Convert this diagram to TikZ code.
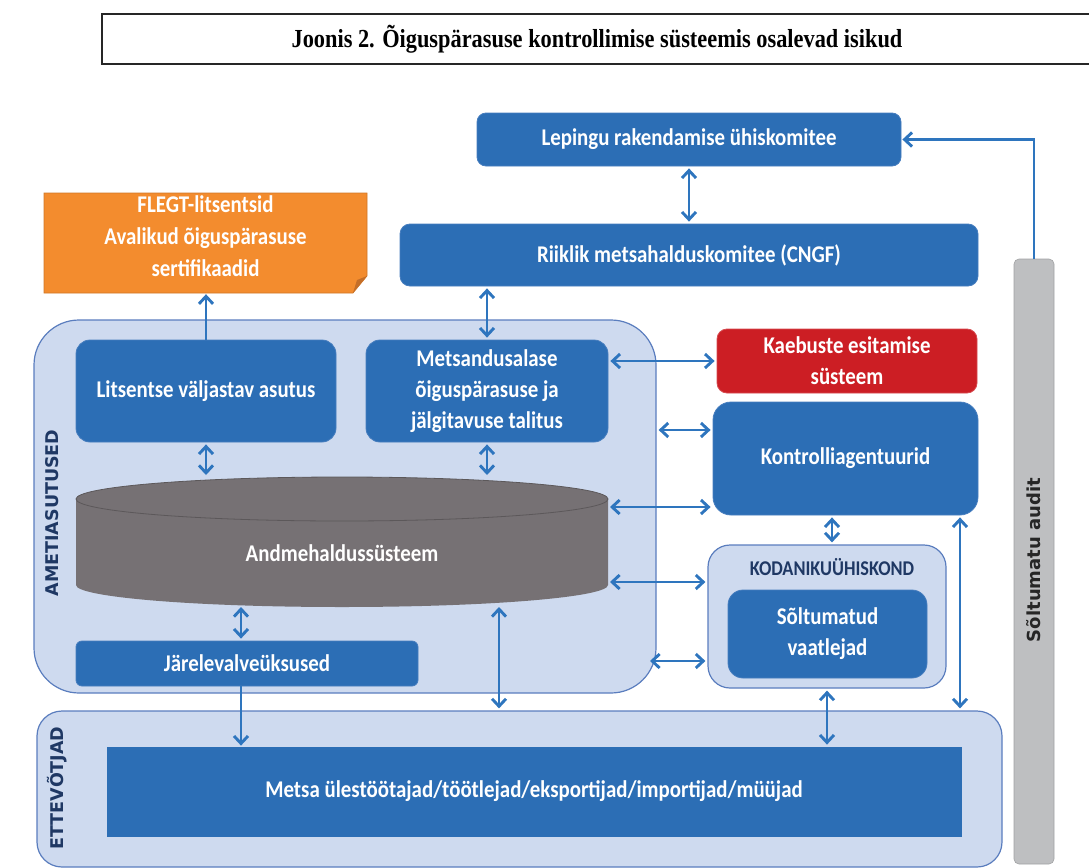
\documentclass[tikz,border=0pt]{standalone}
\usepackage{fontspec}
\setmainfont{Carlito}[FakeStretch=0.87]
\newfontfamily\titlefont{Liberation Serif}[FakeStretch=0.86]
\newfontfamily\sidefont{DejaVu Sans}
\usetikzlibrary{arrows.meta}

\definecolor{boxblue}{RGB}{44,110,181}
\definecolor{boxedge}{RGB}{70,125,190}
\definecolor{grouplight}{RGB}{206,218,239}
\definecolor{groupedge}{RGB}{90,125,190}
\definecolor{arrblue}{RGB}{46,117,190}
\definecolor{flegtorange}{RGB}{243,140,46}
\definecolor{flegtfold}{RGB}{196,110,40}
\definecolor{kaebred}{RGB}{204,30,36}
\definecolor{cylgray}{RGB}{118,113,116}
\definecolor{cyledge}{RGB}{92,88,90}
\definecolor{auditgray}{RGB}{190,191,193}
\definecolor{navy}{RGB}{31,56,100}

\begin{document}
\begin{tikzpicture}[x=1pt,y=-1pt,
	box/.style={fill=boxblue, draw=boxedge, line width=0.8pt, text=white, align=center, inner sep=0pt, font=\bfseries\fontsize{24}{31}\selectfont},
	group/.style={fill=grouplight, draw=groupedge, line width=1.2pt},
	sidelbl/.style={rotate=90, text=navy, font=\sidefont\bfseries\fontsize{17.5}{20}\selectfont},
	biarr/.style={draw=arrblue, line width=2.9pt, {Straight Barb[length=7.5pt,width=14pt]}-{Straight Barb[length=7.5pt,width=14pt]}, shorten <=2pt, shorten >=2pt},
	onearr/.style={draw=arrblue, line width=2.9pt, -{Straight Barb[length=7.5pt,width=14pt]}, shorten >=1pt}]

	\useasboundingbox (0,0) rectangle (1089,867);

	% title
	\node[draw=black!85, line width=1.8pt, minimum width=990pt, minimum height=50pt, font=\titlefont\bfseries\fontsize{26}{30}\selectfont] (title) at (597,39) {Joonis 2. Õiguspärasuse kontrollimise süsteemis osalevad isikud};

	% helper rows and columns for the connectors
	\coordinate (r1) at (0,430);
	\coordinate (r2) at (0,507);
	\coordinate (r3) at (0,582);
	\coordinate (r4) at (0,661);
	\coordinate (c1) at (241,0);
	\coordinate (c2) at (499,0);
	\coordinate (c3) at (832,0);
	\coordinate (c4) at (960,0);
	\coordinate (c5) at (648,0);

	% committees on top
	\node[box, rounded corners=9pt, minimum width=424pt, minimum height=53pt] (lep) at (689,139.5) {Lepingu rakendamise ühiskomitee};
	\node[box, rounded corners=10pt, minimum width=578pt, minimum height=62pt] (cngf) at (689,255) {Riiklik metsahalduskomitee (CNGF)};

	% licences, box with folded corner
	\fill[flegtorange, draw=flegtorange!85!black, line width=0.6pt] (44,193) -- (367,193) -- (367,276) -- (353,293) -- (44,293) -- cycle;
	\fill[flegtfold] (353,293) -- (357,280) -- (367,276) -- cycle;
	\node[text=white, align=center, font=\bfseries\fontsize{24}{32}\selectfont, minimum width=323pt, minimum height=114pt, inner sep=0pt] (flegt) at (205.5,236) {FLEGT-litsentsid\\Avalikud õiguspärasuse\\sertifikaadid};

	% state agencies
	\node[group, rounded corners=45pt, minimum width=622pt, minimum height=373pt] (amet) at (345,506.5) {};
	\node[sidelbl] (ametlbl) at (52,513) {AMETIASUTUSED};
	\node[box, rounded corners=14pt, minimum width=260pt, minimum height=102pt] (lits) at (206,391) {Litsentse väljastav asutus};
	\node[box, rounded corners=14pt, minimum width=242pt, minimum height=102pt] (metsand) at (487,391) {Metsandusalase\\õiguspärasuse ja\\jälgitavuse talitus};

	% database cylinder
	\fill[cylgray] (76,499) -- (76,585) arc[start angle=180, end angle=360, x radius=266pt, y radius=22pt] -- (608,499) arc[start angle=0, end angle=180, x radius=266pt, y radius=22pt] -- cycle;
	\draw[cyledge, line width=0.8pt] (342,499) ellipse [x radius=266pt, y radius=22pt];
	\coordinate (cyltop) at (342,477);
	\coordinate (cylbot) at (342,605);
	\coordinate (cyleast) at (608,542);
	\node[text=white, font=\bfseries\fontsize{24}{31}\selectfont] (andme) at (342,553) {Andmehaldussüsteem};

	\node[box, rounded corners=6pt, minimum width=342pt, minimum height=45pt] (jarel) at (247,663.5) {Järelevalveüksused};

	% companies
	\node[group, rounded corners=25pt, minimum width=965pt, minimum height=156pt] (ettev) at (519.5,789) {};
	\node[sidelbl] (ettevlbl) at (57,788) {ETTEVÕTJAD};
	\node[box, draw=boxblue, minimum width=854pt, minimum height=89pt] (metsa) at (534,791.5) {Metsa ülestöötajad/töötlejad/eksportijad/importijad/müüjad};

	% right column
	\node[box, fill=kaebred, draw=kaebred!80!white, rounded corners=10pt, minimum width=260pt, minimum height=64pt] (kaeb) at (847,361) {Kaebuste esitamise\\süsteem};
	\node[box, rounded corners=18pt, minimum width=265pt, minimum height=113pt] (kontr) at (845.5,458.5) {Kontrolliagentuurid};
	\node[group, rounded corners=22pt, minimum width=238pt, minimum height=143pt] (kodan) at (827,616.5) {};
	\node[text=navy, font=\bfseries\fontsize{21}{24}\selectfont] (kodanlbl) at (832,567) {KODANIKUÜHISKOND};
	\node[box, rounded corners=15pt, minimum width=199pt, minimum height=88pt] (vaatl) at (827.5,634) {Sõltumatud\\vaatlejad};

	% independent audit
	\node[fill=auditgray, draw=auditgray!85!black, line width=0.6pt, rounded corners=5pt, minimum width=40pt, minimum height=605pt] (audit) at (1034,561.5) {};
	\node[rotate=90, text=black!85, font=\sidefont\bfseries\fontsize{18}{20}\selectfont] (audittxt) at (1034,560) {Sõltumatu audit};

	% connectors
	\draw[biarr] (lep) -- (cngf);
	\draw[biarr] (cngf.south -| metsand.north) -- (metsand.north);
	\draw[onearr] (lits.north) -- (lits.north |- flegt.south);
	\draw[biarr] (lits.south) -- (lits.south |- cyltop);
	\draw[biarr] (metsand.south) -- (metsand.south |- cyltop);
	\draw[biarr] (metsand.east |- kaeb.west) -- (kaeb.west);
	\draw[biarr] (amet.east |- r1) -- (kontr.west |- r1);
	\draw[biarr] (cyleast |- r2) -- (kontr.west |- r2);
	\draw[biarr] (cyleast |- r3) -- (kodan.west |- r3);
	\draw[biarr] (c5 |- r4) -- (kodan.west |- r4);
	\draw[biarr] (c3 |- kontr.south) -- (c3 |- kodan.north);
	\draw[biarr] (c4 |- kontr.south) -- (c4 |- ettev.north);
	\draw[biarr] (kodan.south) -- (kodan.south |- metsa.north);
	\draw[biarr] (c2 |- cylbot) -- (c2 |- ettev.north);
	\draw[biarr] (c1 |- cylbot) -- (c1 |- jarel.north);
	\draw[onearr] (c1 |- jarel.south) -- (c1 |- metsa.north);
	\draw[onearr] (audit.north) |- (lep.east);

\end{tikzpicture}
\end{document}
